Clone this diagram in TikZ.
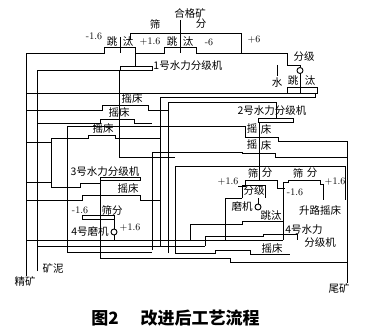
\documentclass[tikz,border=0pt]{standalone}
\usepackage{fontspec}
\newfontfamily\cjk{Noto Sans CJK SC}
\begin{document}
\begin{tikzpicture}[x=1pt,y=-1pt,line width=0.9pt,
  lab/.style={font=\cjk\fontsize{10.5}{11}\selectfont,inner sep=0pt},
  num/.style={font=\fontsize{10}{11}\selectfont,inner sep=0pt},
  captxt/.style={font=\cjk\bfseries\fontsize{17}{17}\selectfont,inner sep=0pt},
  ln/.style={draw=black,line width=0.9pt},
  bar/.style={draw=black,line width=0.9pt,fill=white}]
\useasboundingbox (0,0) rectangle (371,331);
% ---------- texts ----------
\node[lab] (hgk) at (190,13) {合格矿};
\node[lab] (sai1) at (155,24) {筛};
\node[lab] (fen1) at (201,24) {分};
\node[num] (m16a) at (94,36) {-1.6};
\node[lab] (tiao1) at (112,42) {跳};
\node[lab] (tai1) at (128,42) {汰};
\node[num] (p16a) at (150,42) {+1.6};
\node[lab] (tiao2) at (172,42) {跳};
\node[lab] (tai2) at (188,42) {汰};
\node[num] (m6) at (209,42) {-6};
\node[num] (p6) at (254,40) {+6};
\node[lab,anchor=west] (cls1) at (153,66) {1号水力分级机};
\node[lab] (fj1) at (304,57) {分级};
\node[lab] (shui) at (277,83) {水};
\node[lab] (tiao3) at (293,81) {跳};
\node[lab] (tai3) at (310,81) {汰};
\node[lab] (yc1) at (132,98) {摇床};
\node[lab] (yc2) at (119,112) {摇床};
\node[lab] (yc3) at (103,128) {摇床};
\node[lab] (cls2) at (272,111) {2号水力分级机};
\node[lab] (yc4a) at (252,129) {摇};
\node[lab] (yc4b) at (266,129) {床};
\node[lab] (yc5a) at (252,145) {摇};
\node[lab] (yc5b) at (266,145) {床};
\node[lab] (cls3) at (105,172) {3号水力分级机};
\node[lab] (yc6) at (128,188) {摇床};
\node[num] (m16b) at (80,210) {-1.6};
\node[lab] (sf3) at (112,210) {筛分};
\node[lab] (mill4) at (90,232) {4号磨机};
\node[num] (p16c) at (130,228) {+1.6};
\node[lab] (kn) at (53,268) {矿泥};
\node[lab] (jk) at (25,281) {精矿};
\node[lab] (s1a) at (253,173) {筛};
\node[lab] (s1b) at (267,173) {分};
\node[num] (p16d) at (228,182) {+1.6};
\node[lab] (fj2) at (254,191) {分级};
\node[lab] (mj) at (242,207) {磨机};
\node[lab] (tt4) at (271,216) {跳汰};
\node[lab] (s2a) at (298,173) {筛};
\node[lab] (s2b) at (312,173) {分};
\node[num] (m16e) at (295,192) {-1.6};
\node[num] (p16e) at (335,182) {+1.6};
\node[lab] (slyc) at (320,210) {升路摇床};
\node[lab] (c4a) at (304,230) {4号水力};
\node[lab] (c4b) at (320,243) {分级机};
\node[lab] (yc7) at (272,248) {摇床};
\node[lab] (wk) at (339,288) {尾矿};
\node[captxt] (cap1) at (105,318) {图2};
\node[captxt] (cap2) at (200,318) {改进后工艺流程};
% ---------- top section ----------
\draw[ln] (26,276)--(26,53)--(104,53)--(104,47)--(135,47)--(135,53)--(164,53)--(164,47)--(196,47)--(196,53)--(287,53)--(287,65)--(300,65)--(300,67.5);
\draw[ln] (300,70.5) circle (3);
\draw[ln] (300,73.5)--(300,93);
\draw[ln] (277,65)--(277,76);
\draw[ln] (130,40)--(130,33)--(241,33)--(241,53);
\draw[ln] (120,37)--(120,53);
\draw[ln] (180,20)--(180,53);
\draw[ln] (135,53)--(135,66);
\draw[bar] (120,66) rectangle (152,70);
\draw[ln] (37,271)--(37,70)--(120,70);
\draw[ln] (26,93)--(287,93)--(287,87)--(317,87)--(317,93)--(287,93);
\draw[ln] (315,93)--(315,97)--(160,97)--(160,247);
\draw[ln] (168,253)--(168,102)--(276,102)--(276,118);
\draw[bar] (258,118) rectangle (293,122);
\draw[ln] (259,122)--(259,180);
% ---------- left tables ----------
\draw[ln] (119,70)--(119,157);
\draw[ln] (26,110)--(102,110)--(102,105)--(148,105)--(148,110)--(168,110);
\draw[ln] (37,123)--(100,123)--(100,119)--(134,119)--(134,123)--(152,123);
\draw[ln] (26,142)--(51,142);
\draw[ln] (51,187)--(51,138)--(88,138)--(88,135)--(115,135)--(115,138)--(160,138);
\draw[ln] (67,160)--(67,126)--(245,126)--(245,137)--(278,137)--(278,141)--(347,141)--(347,283);
\draw[ln] (152,250)--(152,152)--(242,152)--(242,153)--(275,153)--(275,157)--(347,157);
\draw[ln] (119,157)--(175,157);
\draw[ln] (26,182)--(51,182);
% ---------- 3 classifier / screen / mill ----------
\draw[bar] (100,177) rectangle (140,180);
\draw[ln] (51,187)--(80,187)--(80,183)--(100,183);
\draw[ln] (26,200)--(82,200)--(82,195)--(140,195)--(140,200)--(160,200);
\draw[ln] (100,180)--(100,215);
\draw[bar] (82,215) rectangle (114,219);
\draw[ln] (114,219)--(114,229);
\draw[ln] (114,232) circle (3);
\draw[ln] (114,235)--(114,240);
\draw[ln] (67,160)--(67,252);
% ---------- right middle block ----------
\draw[ln] (175,253)--(175,166)--(345,166)--(345,200);
\draw[ln] (238,186)--(245,186)--(245,180)--(277,180)--(277,188)--(285,188);
\draw[ln] (283,188)--(283,182)--(288,182)--(288,180)--(320,180)--(320,184)--(323,184)--(323,200);
\draw[ln] (242,198)--(242,185)--(265,185)--(265,198);
\draw[ln] (225,240)--(225,198)--(242,198);
\draw[ln] (258,198)--(258,204);
\draw[ln] (258,207) circle (3);
\draw[ln] (283,188)--(283,240);
\draw[ln] (190,240)--(190,224)--(242,224)--(242,221)--(283,221);
\draw[ln] (205,246)--(205,236)--(263,236)--(263,234)--(297,234)--(297,240);
\draw[ln] (175,253)--(215,253)--(215,250)--(250,250)--(250,254)--(290,254);
% ---------- bottom buses ----------
\draw[ln] (26,240)--(283,240);
\draw[ln] (37,246)--(205,246);
\draw[ln] (67,252)--(152,252);
\draw[ln] (100,258)--(230,258)--(230,262)--(347,262);
\draw[ln] (100,215)--(100,258);
\end{tikzpicture}
\end{document}
